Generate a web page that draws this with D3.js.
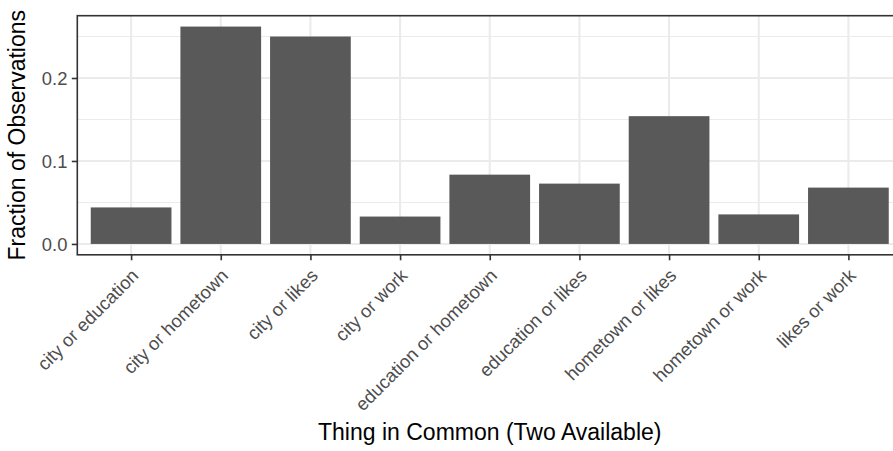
<!DOCTYPE html>
<html><head><meta charset="utf-8">
<script src="https://cdn.jsdelivr.net/npm/d3@7"></script>
<style>body{margin:0;background:#fff;overflow:hidden}svg{display:block}</style>
</head><body>
<svg id="c" width="893" height="451"></svg>
<script>
const categories = ["city or education","city or hometown","city or likes","city or work","education or hometown","education or likes","hometown or likes","hometown or work","likes or work"];
const values = [0.044, 0.262, 0.250, 0.033, 0.0835, 0.0727, 0.154, 0.0356, 0.0679];
const yTicks = [0, 0.1, 0.2];
const yMinor = [0.05, 0.15, 0.25];
const yTickLabels = ["0.0","0.1","0.2"];

const FONT = "Liberation Sans, Arial, Helvetica, sans-serif";
const svg = d3.select("#c");
const L = 77.3, R = 902.2, T = 15.7, B = 254.8;
const n = categories.length;
const step = (R - L) / (n - 1 + 1.2);
const x = d3.scalePoint().domain(categories).range([L + 0.6*step, R - 0.6*step]);
const maxV = d3.max(values);
const y = d3.scaleLinear().domain([-0.05*maxV, maxV*1.05]).range([B, T]);

const g = svg.append("g");
g.selectAll("line.minor").data(yMinor).join("line")
  .attr("x1", L).attr("x2", R).attr("y1", d=>y(d)).attr("y2", d=>y(d))
  .attr("stroke", "#EBEBEB").attr("stroke-width", 1.1);
g.selectAll("line.majy").data(yTicks).join("line")
  .attr("x1", L).attr("x2", R).attr("y1", d=>y(d)).attr("y2", d=>y(d))
  .attr("stroke", "#EBEBEB").attr("stroke-width", 2.1);
g.selectAll("line.majx").data(categories).join("line")
  .attr("y1", T).attr("y2", B).attr("x1", d=>x(d)).attr("x2", d=>x(d))
  .attr("stroke", "#EBEBEB").attr("stroke-width", 2.1);

const bw = step*0.9;
g.selectAll("rect.bar").data(categories).join("rect")
  .attr("x", d=>x(d)-bw/2).attr("width", bw)
  .attr("y", (d,i)=>y(values[i])).attr("height", (d,i)=>y(0)-y(values[i]))
  .attr("fill", "#595959");

svg.append("rect").attr("x", L).attr("y", T).attr("width", R-L).attr("height", B-T)
  .attr("fill", "none").attr("stroke", "#333333").attr("stroke-width", 1.6);

const yAxis = d3.axisLeft(y).tickValues(yTicks).tickSize(5.5).tickPadding(4.4).tickFormat((d,i)=>yTickLabels[i]);
const ya = svg.append("g").attr("transform", `translate(${L},0)`).call(yAxis);
ya.select(".domain").remove();
ya.selectAll(".tick line").attr("stroke", "#333333").attr("stroke-width", 1.6);
ya.selectAll(".tick text").attr("fill", "#4D4D4D").style("font-family", FONT).style("font-size", "18.4px").attr("dy", "0.36em");

const xAxis = d3.axisBottom(x).tickSize(5.5).tickPadding(0);
const xa = svg.append("g").attr("transform", `translate(0,${B})`).call(xAxis);
xa.select(".domain").remove();
xa.selectAll(".tick line").attr("stroke", "#333333").attr("stroke-width", 1.6);
xa.selectAll(".tick text")
  .attr("fill", "#4D4D4D").style("font-family", FONT).style("font-size", "18.4px")
  .attr("text-anchor", "end").attr("y", 0).attr("dy", 0)
  .attr("transform", "translate(8,22) rotate(-45)");

svg.append("text").attr("x", (L+R)/2).attr("y", 440).attr("text-anchor", "middle")
  .style("font-family", FONT).style("font-size", "23px").attr("fill", "#000")
  .text("Thing in Common (Two Available)");
svg.append("text").attr("transform", `translate(25,${(T+B)/2}) rotate(-90)`).attr("text-anchor", "middle")
  .style("font-family", FONT).style("font-size", "23px").attr("fill", "#000")
  .text("Fraction of Observations");
</script>
</body></html>
